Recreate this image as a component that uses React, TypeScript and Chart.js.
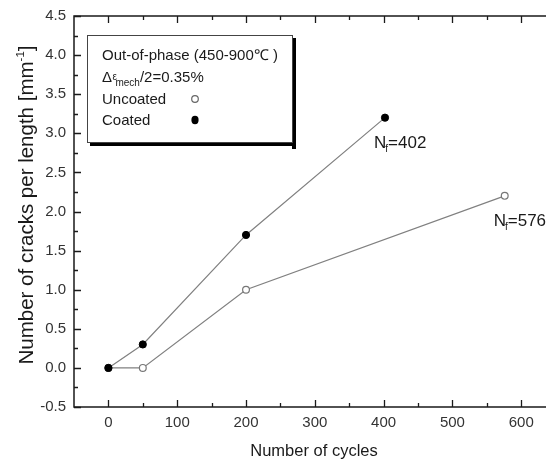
import React, { useEffect, useRef } from "react";
import { Chart, registerables } from "chart.js";

Chart.register(...registerables);

// Crack density measurements (cycles, cracks per mm)
const uncoatedCycles = [0, 50, 200, 576];
const uncoatedCracks = [0, 0, 1.0, 2.2];
const coatedCycles = [0, 50, 200, 402];
const coatedCracks = [0, 0.3, 1.7, 3.2];

const xTickValues = [0, 100, 200, 300, 400, 500, 600];
const yTickValues = [-0.5, 0, 0.5, 1, 1.5, 2, 2.5, 3, 3.5, 4, 4.5];
const xMinorStep = 50;
const yMinorStep = 0.25;
const xMin = -50;
const xMax = 636;
const yMin = -0.5;
const yMax = 4.5;

const xTitle = "Number of cycles";
const yTitle = "Number of cracks per length [mm";
const yTitleSup = "-1";
const legendCondition = "Out-of-phase (450-900\u2103 )";
const legendStrain = "/2=0.35%";
const seriesNames = ["Coated", "Uncoated"];

const FONT = "'Liberation Sans', Arial, Helvetica, sans-serif";
const font = (px: number) => `${px}px ${FONT}`;

const decorations = {
  id: "decorations",
  afterDraw(chart: any) {
    const { ctx, chartArea, scales } = chart;
    const xs = scales.x;
    const ys = scales.y;
    const { left, right, top, bottom } = chartArea;
    ctx.save();

    // frame (left, bottom, top)
    ctx.strokeStyle = "#1a1a1a";
    ctx.lineWidth = 1.5;
    ctx.beginPath();
    ctx.moveTo(right + 2, top);
    ctx.lineTo(left, top);
    ctx.lineTo(left, bottom);
    ctx.lineTo(right + 2, bottom);
    ctx.stroke();

    // inward ticks
    ctx.lineWidth = 1.3;
    ctx.beginPath();
    for (let v = xMin; v <= xMax; v += xMinorStep) {
      if (v <= xMin) continue;
      const major = xTickValues.includes(v);
      const len = major ? 7 : 4;
      const px = Math.round(xs.getPixelForValue(v)) + 0.5;
      ctx.moveTo(px, bottom);
      ctx.lineTo(px, bottom - len);
      ctx.moveTo(px, top);
      ctx.lineTo(px, top + len);
    }
    for (let v = yMin; v <= yMax + 1e-9; v += yMinorStep) {
      const r = Math.round(v * 100) / 100;
      const major = yTickValues.some((t) => Math.abs(t - r) < 1e-6);
      const len = major ? 7 : 4;
      const py = Math.round(ys.getPixelForValue(r)) + 0.5;
      ctx.moveTo(left, py);
      ctx.lineTo(left + len, py);
    }
    ctx.stroke();

    // axis titles
    ctx.fillStyle = "#1a1a1a";
    ctx.textBaseline = "alphabetic";
    ctx.font = font(16.5);
    ctx.textAlign = "center";
    ctx.fillText(xTitle, (left + right) / 2 + 4, 456);

    ctx.save();
    ctx.translate(33, 205);
    ctx.rotate(-Math.PI / 2);
    ctx.font = font(20.5);
    ctx.textAlign = "left";
    const wMain = ctx.measureText(yTitle).width;
    ctx.font = font(11.5);
    const wSup = ctx.measureText(yTitleSup).width;
    ctx.font = font(20.5);
    const wEnd = ctx.measureText("]").width;
    let tx = -(wMain + wSup + wEnd) / 2;
    ctx.fillText(yTitle, tx, 0);
    tx += wMain;
    ctx.font = font(11.5);
    ctx.fillText(yTitleSup, tx, -9.5);
    tx += wSup;
    ctx.font = font(20.5);
    ctx.fillText("]", tx, 0);
    ctx.restore();

    // legend box with drop shadow
    const bx = 87, by = 35, bw = 205, bh = 107;
    ctx.fillStyle = "#000";
    ctx.fillRect(bx + 3, by + bh, bw + 1, 4);
    ctx.fillRect(bx + bw, by + 3, 4, bh + 4);
    ctx.fillStyle = "#fff";
    ctx.fillRect(bx, by, bw, bh);
    ctx.strokeStyle = "#444";
    ctx.lineWidth = 1;
    ctx.strokeRect(bx + 0.5, by + 0.5, bw, bh);

    ctx.fillStyle = "#1a1a1a";
    ctx.textAlign = "left";
    ctx.font = font(15);
    ctx.fillText(legendCondition, 102, 60);
    let lx = 102;
    ctx.fillText("\u0394", lx, 82);
    lx += ctx.measureText("\u0394").width + 0.5;
    ctx.font = font(10);
    ctx.fillText("\u03b5", lx, 80);
    lx += ctx.measureText("\u03b5").width - 1.5;
    ctx.fillText("mech", lx, 86);
    lx += ctx.measureText("mech").width;
    ctx.font = font(15);
    ctx.fillText(legendStrain, lx, 82);
    ctx.fillText(seriesNames[1], 102, 104);
    ctx.fillText(seriesNames[0], 102, 125);

    ctx.beginPath();
    ctx.arc(195, 99, 3.3, 0, Math.PI * 2);
    ctx.fillStyle = "#fff";
    ctx.fill();
    ctx.strokeStyle = "#666";
    ctx.lineWidth = 1.2;
    ctx.stroke();
    ctx.beginPath();
    ctx.ellipse(195, 120, 3.6, 4.2, 0, 0, Math.PI * 2);
    ctx.fillStyle = "#000";
    ctx.fill();

    // fatigue life annotations at the last point of each series
    const annotate = (cyc: number[], val: number[]) => {
      const n = cyc[cyc.length - 1];
      const px = xs.getPixelForValue(n) - 11;
      const py = ys.getPixelForValue(val[val.length - 1]) + 30;
      ctx.fillStyle = "#1a1a1a";
      ctx.font = font(17);
      ctx.fillText("N", px, py);
      let w = ctx.measureText("N").width;
      ctx.font = font(10);
      ctx.fillText("f", px + w - 1, py + 4);
      w += ctx.measureText("f").width - 1;
      ctx.font = font(17);
      ctx.fillText("=" + n, px + w, py);
    };
    annotate(coatedCycles, coatedCracks);
    annotate(uncoatedCycles, uncoatedCracks);

    ctx.restore();
  },
};

export default function App() {
  const ref = useRef<HTMLCanvasElement | null>(null);

  useEffect(() => {
    if (!ref.current) return;
    const coated = coatedCycles.map((x, i) => ({ x, y: coatedCracks[i] }));
    const uncoated = uncoatedCycles.map((x, i) => ({ x, y: uncoatedCracks[i] }));
    const chart = new Chart(ref.current, {
      type: "scatter",
      data: {
        datasets: [
          {
            label: seriesNames[0],
            data: coated,
            showLine: true,
            borderColor: "#808080",
            borderWidth: 1.2,
            pointRadius: 3.6,
            pointBackgroundColor: "#000",
            pointBorderColor: "#000",
            pointBorderWidth: 1,
          },
          {
            label: seriesNames[1],
            data: uncoated,
            showLine: true,
            borderColor: "#808080",
            borderWidth: 1.2,
            pointRadius: 3.4,
            pointBackgroundColor: "#fff",
            pointBorderColor: "#777",
            pointBorderWidth: 1.2,
          },
        ],
      },
      options: {
        animation: false,
        responsive: false,
        maintainAspectRatio: false,
        devicePixelRatio: 1,
        layout: { autoPadding: false, padding: { top: 16, right: 0, left: 0, bottom: 0 } },
        plugins: { legend: { display: false }, tooltip: { enabled: false } },
        scales: {
          x: {
            type: "linear",
            min: xMin,
            max: xMax,
            grid: { display: false, drawTicks: false },
            border: { display: false },
            ticks: {
              color: "#333",
              font: { family: FONT, size: 15 },
              padding: 7,
              maxRotation: 0,
              callback: (v: any) => String(v),
            },
            afterBuildTicks: (s: any) => {
              s.ticks = xTickValues.map((value) => ({ value }));
            },
            afterFit: (s: any) => {
              s.height = 54;
              s.paddingLeft = 0;
              s.paddingRight = 0;
            },
          },
          y: {
            type: "linear",
            min: yMin,
            max: yMax,
            grid: { display: false, drawTicks: false },
            border: { display: false },
            ticks: {
              color: "#333",
              font: { family: FONT, size: 15 },
              padding: 8,
              callback: (v: any) => Number(v).toFixed(1),
            },
            afterBuildTicks: (s: any) => {
              s.ticks = yTickValues.map((value) => ({ value }));
            },
            afterFit: (s: any) => {
              s.width = 74;
              s.paddingTop = 0;
              s.paddingBottom = 0;
            },
          },
        },
      },
      plugins: [decorations],
    });
    return () => chart.destroy();
  }, []);

  return (
    <div style={{ position: "absolute", left: 0, top: 0, width: 546, height: 461, background: "#fff" }}>
      <canvas ref={ref} width={546} height={461} style={{ width: 546, height: 461, display: "block" }} />
    </div>
  );
}
